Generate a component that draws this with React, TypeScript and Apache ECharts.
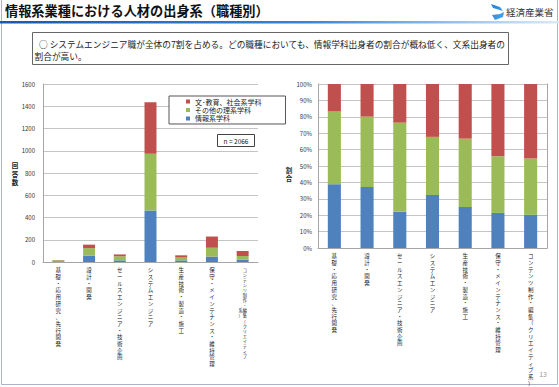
import React, { useEffect, useRef } from 'react';
import * as echarts from 'echarts';

// ---- data ----
const categories = [
  '基礎・応用研究、先行開発',
  '設計・開発',
  'セールスエンジニア・技術企画',
  'システムエンジニア',
  '生産技術・製造・施工',
  '保守・メインテナンス・維持管理',
  'コンテンツ制作・編集（クリエイティブ系）',
];
const seriesNames = ['情報系学科', 'その他の理系学科', '文･教育、社会系学科'];
const infoCounts = [7, 58, 15, 464, 15, 49, 20];
const otherSciCounts = [8, 67, 37, 509, 25, 79, 34];
const humanitiesCounts = [3, 31, 16, 463, 20, 101, 45];
const countAxisMax = 1600;
const countAxisStep = 200;
const shareAxisMax = 100;
const shareAxisStep = 10;
const countAxisTitle = '回答数';
const shareAxisTitle = '割合';
const sampleLabel = 'n = 2066';
const pageTitle = '情報系業種における人材の出身系（職種別）';
const summaryLine1 = '○ システムエンジニア職が全体の7割を占める。どの職種においても、情報学科出身者の割合が概ね低く、文系出身者の';
const summaryLine2 = '割合が高い。';
const ministryName = '経済産業省';
const pageNumber = '13';

const COLORS = ['#4f81bd', '#9bbb59', '#c0504d'];
const FONT = '"Noto Sans CJK JP", "Noto Sans", sans-serif';

echarts.graphic.registerShape(
  'metiLogo',
  echarts.graphic.extendPath('M0 0 L9 3 L12 7 L2 4 Z M13 8 L12 13 L4 16 L1 11 L9 10 Z', {})
);

const seriesCounts = [infoCounts, otherSciCounts, humanitiesCounts];
const totals = categories.map((_, i) => seriesCounts.reduce((s, arr) => s + arr[i], 0));
const seriesShares = seriesCounts.map((arr) => arr.map((v, i) => (v / totals[i]) * 100));

const stackChars = (v: string) => v.split('').join('\n');

const leftLabelFormatter = (value: string, index: number) => {
  if (index === 6) {
    const main = value.slice(0, 18);
    const second = value.slice(18);
    const start = Math.floor((main.length - second.length) / 2);
    const lines = main.split('').map((ch, i) => {
      const j = i - start;
      const left = j >= 0 && j < second.length ? second[j] : '　';
      return left + ch;
    });
    return `{s|${lines.join('\n')}}`;
  }
  return stackChars(value);
};

export default function App() {
  const ref = useRef<HTMLDivElement>(null);

  useEffect(() => {
    if (!ref.current) return;
    const chart = echarts.init(ref.current, undefined, { renderer: 'svg' });

    const axisGrey = '#a6a6a6';
    const gridGrey = '#c4c4c4';

    const xAxisBase = {
      type: 'category' as const,
      data: categories,
      axisLine: { lineStyle: { color: axisGrey } },
      axisTick: { length: 4, lineStyle: { color: axisGrey } },
      splitLine: { show: false },
    };

    const axisTitle = (text: string, x: number, y: number) => ({
      type: 'text',
      silent: true,
      x,
      y,
      style: {
        text: stackChars(text),
        fontSize: 6.5,
        lineHeight: 8.8,
        fontWeight: 'bold',
        fontFamily: FONT,
        fill: '#222',
        align: 'center',
        verticalAlign: 'middle',
      },
    });

    const option: any = {
      animation: false,
      textStyle: { fontFamily: FONT },
      grid: [
        { left: 43, top: 84, width: 215, height: 178 },
        { left: 318, top: 84, width: 229, height: 178 },
      ],
      legend: {
        data: [seriesNames[2], seriesNames[1], seriesNames[0]],
        orient: 'vertical',
        left: 169,
        top: 96,
        icon: 'rect',
        itemWidth: 4,
        itemHeight: 4,
        itemGap: 1.5,
        padding: [2, 24, 2, 17],
        borderColor: '#555',
        borderWidth: 1,
        backgroundColor: '#fff',
        textStyle: { fontSize: 7, color: '#222', fontFamily: FONT },
        selectedMode: false,
      },
      xAxis: [
        {
          ...xAxisBase,
          gridIndex: 0,
          axisLabel: {
            interval: 0,
            margin: 5,
            fontSize: 5.5,
            lineHeight: 6.7,
            color: '#222',
            fontFamily: FONT,
            formatter: leftLabelFormatter,
            rich: { s: { fontSize: 4.2, lineHeight: 5.1, color: '#222', fontFamily: FONT } },
          },
        },
        {
          ...xAxisBase,
          gridIndex: 1,
          axisLabel: {
            interval: 0,
            margin: 5,
            fontSize: 5.5,
            lineHeight: 6.7,
            color: '#222',
            fontFamily: FONT,
            formatter: (v: string) => stackChars(v),
          },
        },
      ],
      yAxis: [
        {
          type: 'value',
          gridIndex: 0,
          min: 0,
          max: countAxisMax,
          interval: countAxisStep,
          axisLine: { show: true, lineStyle: { color: axisGrey } },
          axisTick: { show: false },
          splitLine: { lineStyle: { color: gridGrey, width: 1 } },
          axisLabel: {
            fontSize: 6,
            margin: 8,
            color: '#333',
            fontFamily: FONT,
            formatter: (v: number) => String(v),
          },
        },
        {
          type: 'value',
          gridIndex: 1,
          min: 0,
          max: shareAxisMax,
          interval: shareAxisStep,
          axisLine: { show: true, lineStyle: { color: axisGrey } },
          axisTick: { show: false },
          splitLine: { lineStyle: { color: gridGrey, width: 1 } },
          axisLabel: { fontSize: 6, margin: 6, color: '#333', fontFamily: FONT, formatter: '{value}%' },
        },
        {
          type: 'value',
          gridIndex: 1,
          position: 'right',
          min: 0,
          max: shareAxisMax,
          interval: shareAxisStep,
          axisLine: { show: true, lineStyle: { color: axisGrey } },
          axisTick: { show: false },
          axisLabel: { show: false },
          splitLine: { show: false },
        },
      ],
      series: [
        ...seriesNames.map((name, k) => ({
          name,
          type: 'bar',
          stack: 'count',
          xAxisIndex: 0,
          yAxisIndex: 0,
          barWidth: '39%',
          itemStyle: { color: COLORS[k] },
          data: seriesCounts[k],
        })),
        ...seriesNames.map((name, k) => ({
          name,
          type: 'bar',
          stack: 'share',
          xAxisIndex: 1,
          yAxisIndex: 1,
          barWidth: '40%',
          itemStyle: { color: COLORS[k] },
          data: seriesShares[k],
        })),
      ],
      graphic: [
        {
          type: 'polyline',
          silent: true,
          shape: { points: [[1.5, 0], [1.5, 384.5], [557.5, 384.5], [557.5, 0]] },
          style: { stroke: '#a9b3c9', lineWidth: 1, fill: 'none' },
        },
        {
          type: 'rect',
          silent: true,
          shape: { x: 0, y: 21, width: 559, height: 2.5 },
          style: {
            fill: new echarts.graphic.LinearGradient(0, 0, 1, 0, [
              { offset: 0, color: '#1c58b0' },
              { offset: 0.55, color: '#3a83d6' },
              { offset: 1, color: '#dbeaf9' },
            ]),
          },
        },
        {
          type: 'text',
          silent: true,
          x: 5,
          y: 10,
          style: {
            text: pageTitle,
            fontSize: 13.2,
            fontWeight: 'bold',
            fontFamily: FONT,
            fill: '#111',
            verticalAlign: 'middle',
          },
        },
        {
          type: 'metiLogo',
          silent: true,
          x: 491,
          y: 4,
          style: {
            fill: new echarts.graphic.LinearGradient(0, 0, 1, 1, [
              { offset: 0, color: '#1e7fd6' },
              { offset: 1, color: '#4aa8ee' },
            ]),
          },
        },
        {
          type: 'text',
          silent: true,
          x: 506,
          y: 12,
          style: {
            text: ministryName,
            fontSize: 9.5,
            fontFamily: FONT,
            fill: '#333',
            verticalAlign: 'middle',
          },
        },
        {
          type: 'rect',
          silent: true,
          shape: { x: 32.5, y: 32.5, width: 476, height: 32 },
          style: { fill: '#fff', stroke: '#666', lineWidth: 1 },
        },
        {
          type: 'text',
          silent: true,
          x: 39,
          y: 44.5,
          style: { text: summaryLine1, fontSize: 8.7, fontFamily: FONT, fill: '#222', verticalAlign: 'middle' },
        },
        {
          type: 'text',
          silent: true,
          x: 34.5,
          y: 56,
          style: { text: summaryLine2, fontSize: 8.7, fontFamily: FONT, fill: '#222', verticalAlign: 'middle' },
        },
        axisTitle(countAxisTitle, 15, 173.5),
        axisTitle(shareAxisTitle, 289, 174),
        {
          type: 'rect',
          silent: true,
          z: 10,
          shape: { x: 217.5, y: 134.5, width: 37, height: 12 },
          style: { fill: '#fff', stroke: '#444', lineWidth: 1 },
        },
        {
          type: 'text',
          silent: true,
          z: 11,
          x: 236,
          y: 140.5,
          style: {
            text: sampleLabel,
            fontSize: 6.5,
            fontFamily: FONT,
            fill: '#222',
            align: 'center',
            verticalAlign: 'middle',
          },
        },
        {
          type: 'text',
          silent: true,
          x: 547,
          y: 374,
          style: {
            text: pageNumber,
            fontSize: 7,
            fontFamily: FONT,
            fill: '#999',
            align: 'right',
            verticalAlign: 'middle',
          },
        },
      ],
    };

    chart.setOption(option);
    return () => chart.dispose();
  }, []);

  return (
    <div
      ref={ref}
      style={{ position: 'fixed', left: 0, top: 0, width: 559, height: 387, background: '#fff' }}
    />
  );
}
